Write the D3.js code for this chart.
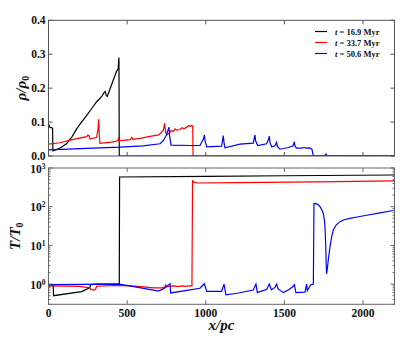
<!DOCTYPE html>
<head>
  <meta charset="utf-8">
  <script src="https://d3js.org/d3.v7.min.js"></script>
  <style>
    body { margin: 0; background: #fff; }
    text { font-family: 'Liberation Serif', 'DejaVu Serif', serif; fill: #111; }
    .tick-label { font-size: 11.5px; font-weight: bold; }
    .axis-label { font-size: 15px; font-weight: bold; font-style: italic; }
    .legend-text { font-size: 8.5px; font-weight: bold; }
  </style>
</head>
<body>
<div id="chart"></div>
<script>

// ---------------- data ----------------

const xTicks = [0, 500, 1000, 1500, 2000];
const rhoTicks = [0.0, 0.1, 0.2, 0.3, 0.4];
const tempTicks = [1, 10, 100, 1000];
const labels = ["t = 16.9 Myr", "t = 33.7 Myr", "t = 50.6 Myr"];
const colors = ["#000000", "#ff0000", "#0000ff"];

// density, [x in pc, rho/rho0]
const rho169 = [[0,0.095],[8,0.085],[26,0.082],[28,0.015],[40,0.017],[80,0.025],[116,0.037],
  [150,0.057],[179,0.08],[210,0.1],[243,0.12],[275,0.14],[306,0.16],[338,0.175],[355,0.188],
  [361,0.19],[367,0.178],[374,0.176],[412,0.224],[433,0.25],[443,0.257],[448,0.29],[450,0],[2200,0]];
const rho337 = [[0,0.035],[73,0.039],[158,0.049],[243,0.057],[250,0.062],[257,0.06],[265,0.05],
  [306,0.055],[315,0.08],[319,0.108],[322,0.07],[327,0.037],[400,0.041],[440,0.045],[445,0.052],
  [450,0.045],[520,0.048],[530,0.055],[535,0.049],[582,0.052],[645,0.058],[700,0.062],[730,0.075],
  [738,0.096],[745,0.07],[751,0.062],[770,0.068],[780,0.075],[793,0.072],[805,0.08],[815,0.076],
  [836,0.078],[850,0.083],[860,0.08],[880,0.085],[890,0.09],[900,0.087],[910,0.09],[917,0.088],
  [919,0],[2200,0]];
const rho506 = [[0,0.018],[200,0.022],[455,0.026],[600,0.03],[709,0.036],[730,0.045],[750,0.062],
  [766,0.085],[770,0.06],[779,0.032],[900,0.031],[963,0.031],[985,0.05],[991,0.062],[995,0.045],
  [1006,0.027],[1101,0.029],[1108,0.05],[1111,0.06],[1116,0.04],[1122,0.024],[1217,0.035],
  [1302,0.038],[1313,0.062],[1317,0.045],[1330,0.031],[1387,0.036],[1400,0.05],[1404,0.059],
  [1408,0.04],[1419,0.027],[1440,0.03],[1450,0.04],[1455,0.028],[1472,0.02],[1525,0.025],
  [1555,0.03],[1563,0.042],[1568,0.028],[1578,0.023],[1610,0.023],[1625,0.025],[1640,0.023],
  [1660,0.024],[1675,0.02],[1684,0],[1755,0],[1764,0.006],[1770,0],[2200,0]];

// temperature, [x in pc, T/T0]
const temp169 = [[0,0.85],[20,0.95],[30,0.93],[32,0.5],[211,0.64],[262,0.8],[268,0.97],[300,1.0],
  [450,1.0],[452,585],[1000,610],[1500,630],[2200,660]];
const temp337 = [[0,0.9],[100,0.88],[200,0.87],[262,0.8],[270,0.72],[290,0.7],[300,0.75],[306,0.88],
  [450,0.92],[550,0.88],[600,0.85],[666,0.8],[720,0.8],[740,0.85],[745,0.95],[750,0.85],[780,0.88],
  [800,0.9],[820,0.86],[850,0.9],[870,0.87],[890,0.9],[912,0.9],[916,465],[925,430],[945,410],
  [1200,420],[1700,440],[2200,465]];
const temp506 = [[0,0.97],[200,0.98],[450,1.0],[550,0.85],[650,0.72],[698,0.66],[730,0.75],
  [762,0.95],[773,1.02],[777,0.59],[870,0.68],[963,0.78],[991,1.02],[1006,0.65],[1101,0.65],
  [1116,1.0],[1128,0.53],[1200,0.58],[1302,0.7],[1319,1.0],[1328,0.61],[1387,0.72],[1404,1.0],
  [1417,0.71],[1440,0.82],[1450,1.0],[1460,0.75],[1493,0.6],[1530,0.72],[1560,0.9],[1563,1.0],
  [1573,0.6],[1631,0.62],[1641,1.0],[1646,0.68],[1667,0.96],[1680,0.98],[1684,1.0],[1688,122],
  [1700,120],[1715,112],[1726,100],[1740,80],[1747,67],[1754,45],[1758,30],[1762,12],[1766,3],
  [1768,1.84],[1773,2.5],[1779,4.2],[1790,9.3],[1800,16],[1811,25],[1830,34],[1853,41],[1880,46],
  [1917,50],[1970,55],[2023,60],[2100,68],[2200,81]];

const rhoSeries = [rho169, rho337, rho506];
const tempSeries = [temp169, temp337, temp506];

// ---------------- layout ----------------

const W = 407, H = 339;
const left = 48.5, right = 394.5;
const top1 = 20.3, bot1 = 156;
const top2 = 168, bot2 = 304.3;

const svg = d3.select("#chart").append("svg")
  .attr("width", W).attr("height", H);

const x = d3.scaleLinear().domain([0, 2200]).range([left, right]);
const yRho = d3.scaleLinear().domain([0, 0.4]).range([bot1, top1]);
const yT = d3.scaleLog().domain([0.3, 1000]).range([bot2, top2]);

const clip = (id, y0, y1) => svg.append("clipPath").attr("id", id)
  .append("rect").attr("x", left).attr("y", y0).attr("width", right - left).attr("height", y1 - y0);
clip("c1", top1, bot1);
clip("c2", top2, bot2);

// ---------------- lines ----------------

const lineRho = d3.line().x(d => x(d[0])).y(d => yRho(d[1]));
const lineT = d3.line().x(d => x(d[0])).y(d => yT(d[1]));

svg.append("g").attr("clip-path", "url(#c1)")
  .selectAll("path").data(rhoSeries).enter().append("path")
  .attr("d", lineRho).attr("fill", "none")
  .attr("stroke", (d, i) => colors[i]).attr("stroke-width", 1.2);

svg.append("g").attr("clip-path", "url(#c2)")
  .selectAll("path").data(tempSeries).enter().append("path")
  .attr("d", lineT).attr("fill", "none")
  .attr("stroke", (d, i) => colors[i]).attr("stroke-width", 1.2);

// ---------------- frames and ticks ----------------

function frame(y0, y1, col) {
  svg.append("rect").attr("x", left).attr("y", y0)
    .attr("width", right - left).attr("height", y1 - y0)
    .attr("fill", "none").attr("stroke", col).attr("stroke-width", 1);
}

function xTickMarks(y0, y1, col) {
  const g = svg.append("g");
  xTicks.forEach(v => {
    g.append("line").attr("x1", x(v)).attr("x2", x(v)).attr("y1", y1).attr("y2", y1 - 4).attr("stroke", col);
    g.append("line").attr("x1", x(v)).attr("x2", x(v)).attr("y1", y0).attr("y2", y0 + 4).attr("stroke", col);
  });
}

// top panel
frame(top1, bot1, "#555");
xTickMarks(top1, bot1, "#555");
rhoTicks.forEach(v => {
  svg.append("line").attr("x1", left).attr("x2", left + 4).attr("y1", yRho(v)).attr("y2", yRho(v)).attr("stroke", "#555");
  svg.append("line").attr("x1", right).attr("x2", right - 4).attr("y1", yRho(v)).attr("y2", yRho(v)).attr("stroke", "#555");
  svg.append("text").attr("class", "tick-label")
    .attr("x", left - 3).attr("y", yRho(v) + 3.5).attr("text-anchor", "end")
    .text(d3.format(".1f")(v));
});

// bottom panel
frame(top2, bot2, "#666");
xTickMarks(top2, bot2, "#666");
const minor = [];
[0.1, 1, 10, 100].forEach(d => d3.range(2, 10).forEach(k => {
  const v = d * k;
  if (v >= 0.3 && v < 1000) minor.push(v);
}));
minor.forEach(v => {
  svg.append("line").attr("x1", left).attr("x2", left + 2).attr("y1", yT(v)).attr("y2", yT(v)).attr("stroke", "#666");
  svg.append("line").attr("x1", right).attr("x2", right - 2).attr("y1", yT(v)).attr("y2", yT(v)).attr("stroke", "#666");
});
tempTicks.forEach((v, i) => {
  svg.append("line").attr("x1", left).attr("x2", left + 4).attr("y1", yT(v)).attr("y2", yT(v)).attr("stroke", "#666");
  svg.append("line").attr("x1", right).attr("x2", right - 4).attr("y1", yT(v)).attr("y2", yT(v)).attr("stroke", "#666");
  const t = svg.append("text").attr("class", "tick-label")
    .attr("x", left - 3).attr("y", yT(v) + 4.5).attr("text-anchor", "end");
  t.append("tspan").text("10");
  t.append("tspan").attr("dy", -4).attr("font-size", "7.5px").text(i);
});
xTicks.forEach(v => {
  svg.append("text").attr("class", "tick-label")
    .attr("x", x(v)).attr("y", bot2 + 13).attr("text-anchor", "middle").text(v);
});

// ---------------- axis labels ----------------

const yl1 = svg.append("text").attr("class", "axis-label")
  .attr("transform", "translate(26," + ((top1 + bot1) / 2) + ") rotate(-90)")
  .attr("text-anchor", "middle");
yl1.append("tspan").text("ρ/ρ");
yl1.append("tspan").attr("dy", 3).attr("font-size", "10px").attr("font-style", "normal").text("0");

const yl2 = svg.append("text").attr("class", "axis-label")
  .attr("transform", "translate(20," + ((top2 + bot2) / 2) + ") rotate(-90)")
  .attr("text-anchor", "middle");
yl2.append("tspan").text("T/T");
yl2.append("tspan").attr("dy", 3).attr("font-size", "10px").attr("font-style", "normal").text("0");

svg.append("text").attr("class", "axis-label")
  .attr("x", (left + right) / 2).attr("y", 330).attr("text-anchor", "middle")
  .text("x/pc");

// ---------------- legend ----------------

const legend = svg.append("g");
labels.forEach((lab, i) => {
  const yy = 31.5 + i * 11;
  legend.append("line").attr("x1", 315).attr("x2", 327).attr("y1", yy).attr("y2", yy)
    .attr("stroke", colors[i]).attr("stroke-width", 1.2);
  const t = legend.append("text").attr("class", "legend-text").attr("x", 335).attr("y", yy + 3);
  t.append("tspan").attr("font-style", "italic").text("t");
  t.append("tspan").text(lab.slice(1));
});

</script>
</body>
